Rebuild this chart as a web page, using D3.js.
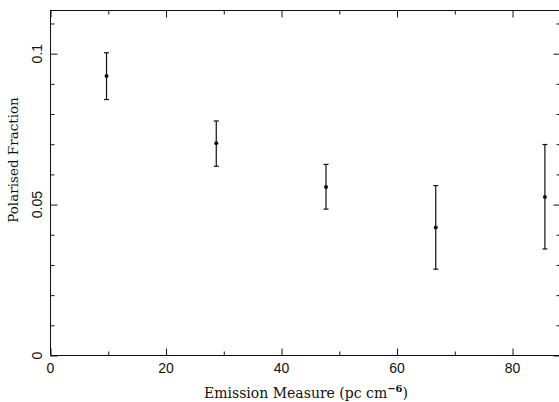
<!DOCTYPE html>
<html>
<head>
<meta charset="utf-8">
<script src="https://cdn.jsdelivr.net/npm/d3@7"></script>
<style>
  body { margin: 0; background: #fff; }
  svg { display: block; }
</style>
</head>
<body>
<svg id="chart" width="559" height="402"></svg>
<script>
// data
var emission = [9.7, 28.7, 47.7, 66.7, 85.6];
var fraction = [0.0926, 0.0703, 0.0558, 0.0424, 0.0525];
var errLow   = [0.0848, 0.0627, 0.0485, 0.0286, 0.0353];
var errHigh  = [0.1003, 0.0777, 0.0633, 0.0563, 0.0699];
var xMajor = [0, 20, 40, 60, 80];
var xMinor = [10, 30, 50, 70];
var yMajor = [0, 0.05, 0.1];
var yMinor = [0.01, 0.02, 0.03, 0.04, 0.06, 0.07, 0.08, 0.09, 0.11];

var svg = d3.select("#chart");
var m = {left: 50.5, right: 560.5, top: 10.5, bottom: 355.5};

var x = d3.scaleLinear().domain([0, 88.3]).range([m.left, m.right]);
var y = d3.scaleLinear().domain([0, 0.1143]).range([m.bottom, m.top]);

var ink = "#111";

// frame
svg.append("rect")
  .attr("x", m.left).attr("y", m.top)
  .attr("width", m.right - m.left).attr("height", m.bottom - m.top)
  .attr("fill", "none").attr("stroke", ink).attr("stroke-width", 1);

// ticks, pointing inward on all four sides
function ticks(axis, vals, size, pos){
  var g = svg.append("g")
    .attr("transform", pos)
    .call(axis.tickValues(vals).tickSize(size).tickFormat(""));
  g.select(".domain").remove();
  g.selectAll("line").attr("stroke", ink).attr("stroke-width", 1);
  return g;
}
ticks(d3.axisBottom(x), xMajor, -7, "translate(0," + m.bottom + ")");
ticks(d3.axisBottom(x), xMinor, -4, "translate(0," + m.bottom + ")");
ticks(d3.axisTop(x), xMajor, -7, "translate(0," + m.top + ")");
ticks(d3.axisTop(x), xMinor, -4, "translate(0," + m.top + ")");
ticks(d3.axisLeft(y), yMajor, -7, "translate(" + m.left + ",0)");
ticks(d3.axisLeft(y), yMinor, -4, "translate(" + m.left + ",0)");
ticks(d3.axisRight(y), yMajor, -7, "translate(" + m.right + ",0)");
ticks(d3.axisRight(y), yMinor, -4, "translate(" + m.right + ",0)");

// tick labels
svg.append("g").selectAll("text")
  .data(xMajor).enter().append("text")
  .attr("x", function(d){ return x(d); })
  .attr("y", 373)
  .attr("text-anchor", "middle")
  .attr("font-family", "Liberation Sans, Arial, sans-serif")
  .attr("font-size", 14)
  .attr("fill", ink)
  .text(function(d){ return d; });

svg.append("g").selectAll("text")
  .data(yMajor).enter().append("text")
  .attr("transform", function(d){ return "translate(42," + y(d) + ") rotate(-90)"; })
  .attr("text-anchor", "middle")
  .attr("font-family", "Liberation Sans, Arial, sans-serif")
  .attr("font-size", 14)
  .attr("fill", ink)
  .text(function(d){ return d; });

// axis titles
var xt = svg.append("text")
  .attr("x", 306).attr("y", 398)
  .attr("text-anchor", "middle")
  .attr("font-family", "DejaVu Serif, serif")
  .attr("font-size", 14)
  .attr("fill", ink);
xt.append("tspan").text("Emission Measure (pc cm");
xt.append("tspan").attr("dy", -6).attr("font-size", 10).attr("font-weight", "bold").text("\u22126");
xt.append("tspan").attr("dy", 6).text(")");

svg.append("text")
  .attr("transform", "translate(18,160) rotate(-90)")
  .attr("text-anchor", "middle")
  .attr("font-family", "DejaVu Serif, serif")
  .attr("font-size", 13.5)
  .attr("fill", ink)
  .text("Polarised Fraction");

// error bars
var pts = emission.map(function(e, i){
  return {x: e, y: fraction[i], lo: errLow[i], hi: errHigh[i]};
});
var bars = svg.append("g").selectAll("g").data(pts).enter().append("g");
bars.append("line")
  .attr("x1", function(d){ return x(d.x); }).attr("x2", function(d){ return x(d.x); })
  .attr("y1", function(d){ return y(d.lo); }).attr("y2", function(d){ return y(d.hi); })
  .attr("stroke", ink).attr("stroke-width", 1.2);
bars.selectAll("line.cap")
  .data(function(d){ return [{x: d.x, v: d.lo}, {x: d.x, v: d.hi}]; })
  .enter().append("line").attr("class", "cap")
  .attr("x1", function(d){ return x(d.x) - 2.5; }).attr("x2", function(d){ return x(d.x) + 2.5; })
  .attr("y1", function(d){ return y(d.v); }).attr("y2", function(d){ return y(d.v); })
  .attr("stroke", ink).attr("stroke-width", 1.2);
bars.append("circle")
  .attr("cx", function(d){ return x(d.x); })
  .attr("cy", function(d){ return y(d.y); })
  .attr("r", 2)
  .attr("fill", ink);
</script>
</body>
</html>
